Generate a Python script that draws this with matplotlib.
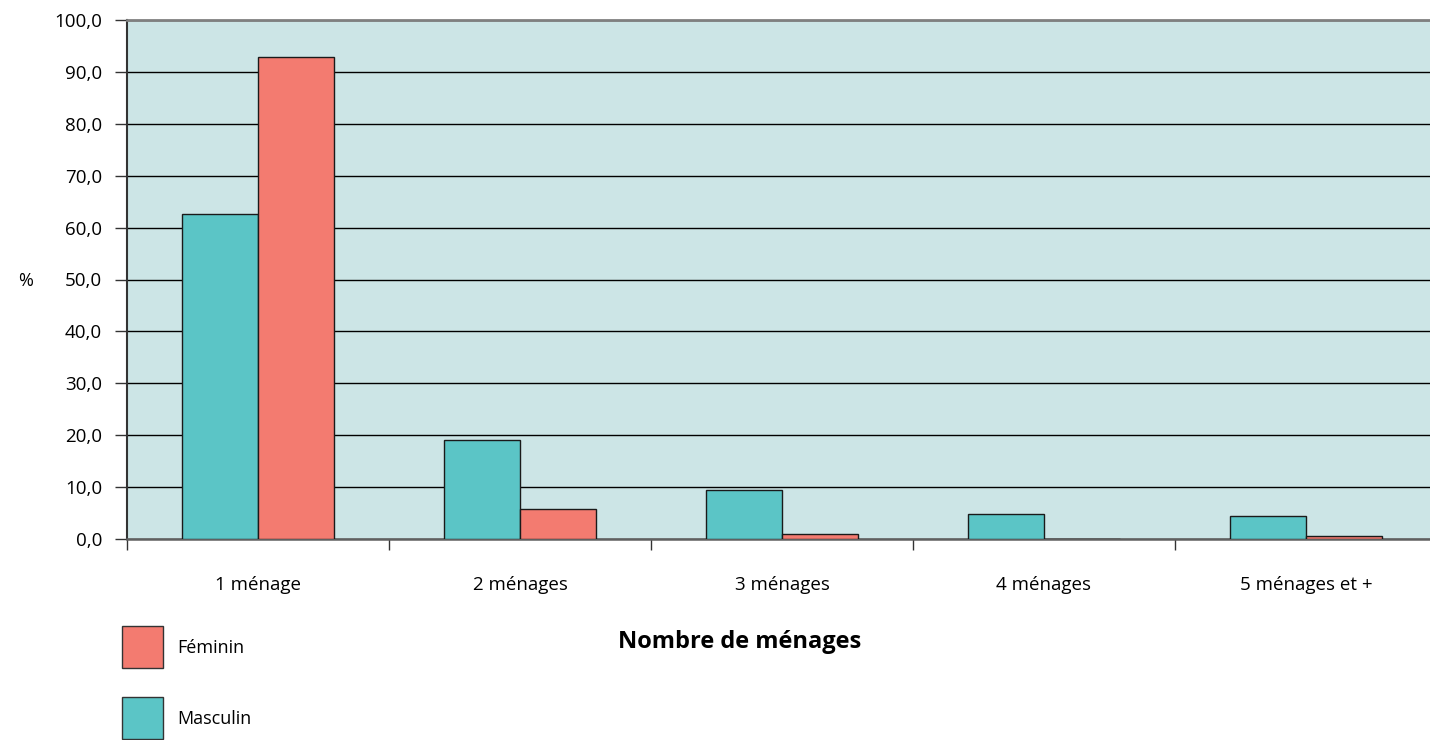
import numpy as np
import matplotlib.pyplot as plt
from matplotlib.patches import Rectangle

plt.rcParams['font.family'] = ['Open Sans', 'DejaVu Sans']

# Data
categories = ["1 ménage", "2 ménages", "3 ménages", "4 ménages", "5 ménages et +"]
masculin = [62.7, 19.0, 9.5, 4.8, 4.4]
feminin = [92.8, 5.8, 1.0, 0.0, 0.6]
yticks = [0, 10, 20, 30, 40, 50, 60, 70, 80, 90, 100]
legend_labels = ['Féminin', 'Masculin']

teal = '#5BC5C6'
salmon = '#F37B70'
bg = '#CCE5E6'

W, H = 1430, 740
fig = plt.figure(figsize=(W / 100, H / 100), dpi=100)
ax = fig.add_axes([127 / W, 1 - 539 / H, 1310 / W, 519 / H])
ax.set_facecolor(bg)

x = np.arange(len(categories))
w = 0.29
ax.bar(x - w / 2, masculin, w, color=teal, edgecolor='#1a1a1a', linewidth=1, zorder=3)
ax.bar(x + w / 2, feminin, w, color=salmon, edgecolor='#1a1a1a', linewidth=1, zorder=3)

ax.set_xlim(-0.5, len(categories) - 0.5)
ax.set_ylim(0, 100)

ax.set_yticks(yticks)
ax.set_yticklabels([f"{v:.1f}".replace('.', ',') for v in yticks], fontsize=13.5)
ax.yaxis.grid(True, color='black', linewidth=1, zorder=1)
ax.set_axisbelow(True)

# category names in the middle, tick marks on the boundaries
ax.set_xticks(x)
ax.set_xticklabels(categories, fontsize=13.5)
ax.tick_params(axis='x', length=0, pad=27)
ax.set_xticks(np.arange(len(categories) + 1) - 0.5, minor=True)
ax.tick_params(axis='x', which='minor', length=8, color='#333333', width=1)
ax.tick_params(axis='y', length=9, color='#333333', width=1, pad=9)

ax.spines['left'].set_color('#333333')
ax.spines['left'].set_linewidth(1.5)
ax.spines['bottom'].set_color('#606060')
ax.spines['bottom'].set_linewidth(1.8)
ax.spines['top'].set_color('#808080')
ax.spines['top'].set_linewidth(2)
ax.spines['right'].set_visible(False)

fig.text(18 / W, 1 - 281 / H, '%', fontsize=13, ha='left', va='center')
fig.text(740 / W, 1 - 642 / H, 'Nombre de ménages', fontsize=17,
         fontweight='bold', ha='center', va='center')

# legend boxes stacked on the lower left
for i, (lab, col) in enumerate(zip(legend_labels, [salmon, teal])):
    top = 626 + i * 71
    fig.add_artist(Rectangle((122 / W, 1 - (top + 42) / H), 41 / W, 42 / H,
                             transform=fig.transFigure, facecolor=col,
                             edgecolor='#333333', linewidth=1))
    fig.text(177 / W, 1 - (top + 22) / H, lab, fontsize=13, ha='left', va='center')

fig.savefig('out.png', dpi=100)
